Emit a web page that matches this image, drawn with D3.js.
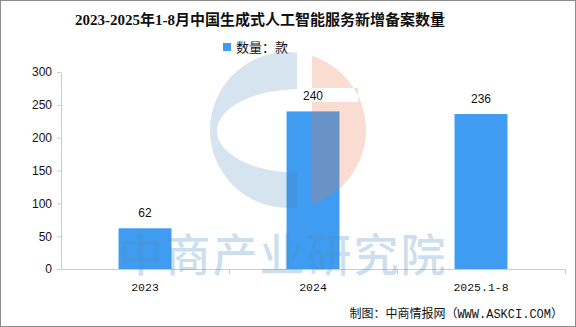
<!DOCTYPE html>
<html>
<head>
<meta charset="utf-8">
<script src="https://cdn.jsdelivr.net/npm/d3@7"></script>
<style>
  html, body { margin: 0; padding: 0; background: #fff; }
  svg { display: block; }
</style>
</head>
<body>
<svg id="chart" width="576" height="327"></svg>
<script>
// Chart data
const titleText = "2023-2025年1-8月中国生成式人工智能服务新增备案数量";
const seriesName = "数量：款";
const categories = ["2023", "2024", "2025.1-8"];
const values = [62, 240, 236];
const yTicks = [0, 50, 100, 150, 200, 250, 300];
const sourceText = "制图：中商情报网（WWW.ASKCI.COM）";
const watermarkText = "中商产业研究院";

const W = 576, H = 327;
const margin = { left: 61, right: 11, top: 72, bottom: 58 };
const barColor = "#3f9cf0";
const axisColor = "#cccccc";

const svg = d3.select("#chart");

// outer frame
svg.append("rect")
  .attr("x", 0.5).attr("y", 0.5)
  .attr("width", W - 1).attr("height", H - 1)
  .attr("fill", "#fff").attr("stroke", "#8c8c8c").attr("stroke-width", 1);

const x = d3.scaleBand()
  .domain(categories)
  .range([margin.left, W - margin.right])
  .paddingInner(0.685)
  .paddingOuter(0.3425);

const y = d3.scaleLinear()
  .domain([0, 300])
  .range([H - margin.bottom, margin.top]);

// title
svg.append("text")
  .attr("x", 260).attr("y", 25)
  .attr("text-anchor", "middle")
  .attr("font-family", "'Liberation Serif', 'Noto Sans CJK SC', serif")
  .attr("font-weight", "bold")
  .attr("font-size", 15)
  .attr("fill", "#111")
  .text(titleText);

// legend
const legend = svg.append("g").attr("transform", "translate(223,43)");
legend.append("rect").attr("width", 8).attr("height", 8).attr("fill", barColor);
legend.append("text")
  .attr("x", 13).attr("y", 8.5)
  .attr("font-family", "'Noto Sans CJK SC', sans-serif")
  .attr("font-size", 13)
  .attr("fill", "#111")
  .text(seriesName);

// y axis
const yAxis = svg.append("g")
  .attr("transform", `translate(${margin.left},0)`)
  .call(d3.axisLeft(y).tickValues(yTicks).tickSize(4).tickPadding(5).tickSizeOuter(0));
yAxis.select(".domain").attr("stroke", axisColor);
yAxis.selectAll(".tick line").attr("stroke", axisColor);
yAxis.selectAll("text")
  .attr("font-family", "'Liberation Sans', Arial, sans-serif")
  .attr("font-size", 12)
  .attr("fill", "#111");

// bars
svg.append("g").selectAll("rect")
  .data(values)
  .join("rect")
  .attr("x", (d, i) => x(categories[i]))
  .attr("y", d => y(d))
  .attr("width", x.bandwidth())
  .attr("height", d => y(0) - y(d))
  .attr("fill", barColor);

// value labels
svg.append("g").selectAll("text")
  .data(values)
  .join("text")
  .attr("x", (d, i) => x(categories[i]) + x.bandwidth() / 2)
  .attr("y", d => y(d) - 11)
  .attr("text-anchor", "middle")
  .attr("font-family", "'Liberation Sans', Arial, sans-serif")
  .attr("font-size", 12)
  .attr("fill", "#111")
  .text(d => d);

// x axis
const xAxis = svg.append("g")
  .attr("transform", `translate(0,${y(0)})`)
  .call(d3.axisBottom(x).tickSize(0).tickPadding(14));
xAxis.select(".domain").attr("stroke", axisColor);
xAxis.selectAll("text")
  .attr("font-family", "'Liberation Mono', monospace")
  .attr("font-size", 11.5)
  .attr("fill", "#111");
// category boundary ticks
svg.append("g").selectAll("line")
  .data(categories)
  .join("line")
  .attr("x1", (d, i) => Math.round(margin.left + (i + 1) * x.step()) + 0.5)
  .attr("x2", (d, i) => Math.round(margin.left + (i + 1) * x.step()) + 0.5)
  .attr("y1", y(0)).attr("y2", y(0) + 5)
  .attr("stroke", axisColor);

// translucent logo watermark
const wm = svg.append("g").attr("pointer-events", "none");
const defs = svg.append("defs");
const cx = 288, cy = 130, R = 78;
defs.append("clipPath").attr("id", "clipLeft")
  .append("rect").attr("x", 0).attr("y", 0).attr("width", 297).attr("height", H);
defs.append("clipPath").attr("id", "clipRight")
  .append("rect").attr("x", 312).attr("y", 0).attr("width", W - 312).attr("height", H);

const circlePath = `M${cx - R},${cy}a${R},${R} 0 1,0 ${2 * R},0a${R},${R} 0 1,0 ${-2 * R},0Z`;
const hx = 300, hy = 131, hrx = 83, hry = 42;
const holePath = `M${hx - hrx},${hy}a${hrx},${hry} 0 1,0 ${2 * hrx},0a${hrx},${hry} 0 1,0 ${-2 * hrx},0Z`;
wm.append("path")
  .attr("d", circlePath + holePath)
  .attr("fill-rule", "evenodd")
  .attr("clip-path", "url(#clipLeft)")
  .attr("fill", "#4682b4")
  .attr("fill-opacity", 0.22);

const slotPath = "M312,88H358V102H312Z";
wm.append("path")
  .attr("d", circlePath + slotPath)
  .attr("fill-rule", "evenodd")
  .attr("clip-path", "url(#clipRight)")
  .attr("fill", "#e8754a")
  .attr("fill-opacity", 0.25);

// text watermark
wm.append("text")
  .attr("x", 283).attr("y", 272)
  .attr("text-anchor", "middle")
  .attr("font-family", "'Noto Sans CJK SC', sans-serif")
  .attr("font-weight", 500)
  .attr("font-size", 45)
  .attr("letter-spacing", 2)
  .attr("fill", "#4a90c4")
  .attr("fill-opacity", 0.28)
  .text(watermarkText);

// source note
svg.append("text")
  .attr("x", 563).attr("y", 318)
  .attr("text-anchor", "end")
  .attr("font-family", "'Liberation Mono', 'Noto Sans CJK SC', monospace")
  .attr("font-size", 12)
  .attr("fill", "#111")
  .text(sourceText);
</script>
</body>
</html>
